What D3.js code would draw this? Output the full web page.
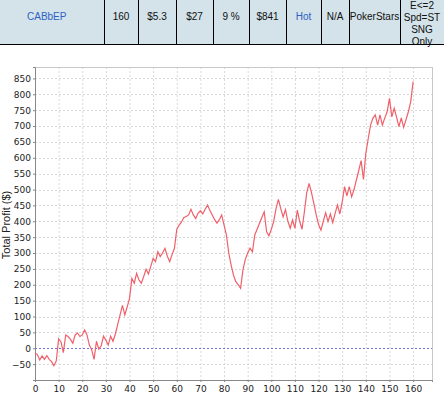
<!DOCTYPE html>
<html>
<head>
<meta charset="utf-8">
<script src="https://cdn.jsdelivr.net/npm/d3@7"></script>
<style>
  body { margin: 0; background: #fff; }
  text { font-family: "Liberation Sans", Arial, sans-serif; }
</style>
</head>
<body>
<div id="chart"></div>
<script>
// table row above the chart
const tableCells = ["CABbEP", "160", "$5.3", "$27", "9 %", "$841", "Hot", "N/A", "PokerStars", ["E<=2", "Spd=ST", "SNG", "Only"]];
const blueCells = [0, 6];

// x ticks and y ticks
const xTicks = d3.range(0, 161, 10);
const yTicks = d3.range(-50, 851, 50);

// cumulative profit, one value per tournament (0..160)
const profit = [
  -15, -20, -37, -24, -35, -23, -35, -42, -55, -40,
  30, 20, -14, 42, 37, 28, 16, 42, 48, 37,
  42, 58, 42, 10, -5, -35, 22, -3, 8, 38,
  25, 10, 38, 22, 45, 75, 105, 135, 105, 130,
  157, 220, 205, 236, 215, 205, 226, 249, 234, 258,
  283, 273, 304, 289, 300, 315, 290, 273, 295, 315,
  375, 388, 398, 412, 415, 420, 438, 420, 409, 425,
  433, 423, 438, 451, 435, 420, 405, 394, 405, 420,
  388, 357, 300, 262, 230, 210, 200, 189, 247, 280,
  300, 315, 304, 357, 375, 394, 412, 430, 367, 354,
  375, 399, 440, 469, 440, 414, 437, 400, 378, 404,
  378, 435, 400, 375, 430, 490, 519, 490, 456, 420,
  390, 372, 400, 427, 399, 423, 396, 425, 451, 423,
  460, 509, 480, 509, 477, 500, 530, 560, 591, 532,
  614, 660, 703, 725, 735, 703, 735, 703, 725, 745,
  787, 729, 756, 728, 698, 726, 696, 720, 745, 777,
  840
];

const W = 444, H = 398;
const plot = { left: 35, right: 432, top: 67, bottom: 380 };
const colEdges = [0, 104, 138, 176, 213, 249, 286, 321, 349, 400, 444];

const svg = d3.select("#chart").append("svg")
  .attr("width", W)
  .attr("height", H);

// ---- table row ----
const table = svg.append("g");
table.append("rect")
  .attr("x", 0).attr("y", 0)
  .attr("width", W).attr("height", 44)
  .attr("fill", "#d3e3e9");

table.selectAll(".sep")
  .data(colEdges.slice(1, -1))
  .enter()
  .append("line")
  .attr("x1", d => d + 0.5).attr("x2", d => d + 0.5)
  .attr("y1", 0).attr("y2", 44)
  .attr("stroke", "#000");

table.append("line")
  .attr("x1", 0).attr("x2", W)
  .attr("y1", 44.5).attr("y2", 44.5)
  .attr("stroke", "#000");

tableCells.forEach((cell, i) => {
  const cx = i === 0 ? 27 : (colEdges[i] + colEdges[i + 1]) / 2;
  const anchor = i === 0 ? "start" : "middle";
  const lines = Array.isArray(cell) ? cell : [cell];
  const y0 = lines.length > 1 ? 9 : 20;
  lines.forEach((t, k) => {
    table.append("text")
      .attr("x", cx)
      .attr("y", y0 + k * 12)
      .attr("text-anchor", anchor)
      .style("font-size", "10px")
      .style("fill", blueCells.includes(i) ? "#2b62c4" : "#111")
      .text(t);
  });
});

// ---- chart ----
const x = d3.scaleLinear().domain([0, 168]).range([plot.left, plot.right]);
const y = d3.scaleLinear().domain([-100, 886]).range([plot.bottom, plot.top]);

// grid
svg.append("g")
  .selectAll("line")
  .data(xTicks.filter(d => d > 0))
  .enter()
  .append("line")
  .attr("x1", d => x(d) + 0.5).attr("x2", d => x(d) + 0.5)
  .attr("y1", plot.top).attr("y2", plot.bottom)
  .attr("stroke", "#d8d8d8")
  .attr("stroke-dasharray", "2,2");

svg.append("g")
  .selectAll("line")
  .data(yTicks.filter(d => d !== 0))
  .enter()
  .append("line")
  .attr("x1", plot.left).attr("x2", plot.right)
  .attr("y1", d => Math.round(y(d)) + 0.5).attr("y2", d => Math.round(y(d)) + 0.5)
  .attr("stroke", "#d8d8d8")
  .attr("stroke-dasharray", "2,2");

// frame
svg.append("rect")
  .attr("x", plot.left + 0.5).attr("y", plot.top + 0.5)
  .attr("width", plot.right - plot.left).attr("height", plot.bottom - plot.top)
  .attr("fill", "none")
  .attr("stroke", "#c8c8c8");

// zero marker line
svg.append("line")
  .attr("x1", plot.left).attr("x2", plot.right)
  .attr("y1", Math.round(y(0)) + 0.5).attr("y2", Math.round(y(0)) + 0.5)
  .attr("stroke", "#7474dc")
  .attr("stroke-dasharray", "2,2");

// axes
const yAxis = svg.append("g")
  .attr("transform", `translate(${plot.left},0)`)
  .call(d3.axisLeft(y).tickValues(yTicks).tickSize(2).tickPadding(2));
const xAxis = svg.append("g")
  .attr("transform", `translate(0,${plot.bottom})`)
  .call(d3.axisBottom(x).tickValues(xTicks).tickSize(2).tickPadding(4));

[xAxis, yAxis].forEach(a => {
  a.select(".domain").attr("stroke", "#888");
  a.selectAll(".tick line").attr("stroke", "#888");
  a.selectAll(".tick text")
    .style("font-family", "'DejaVu Sans', sans-serif")
    .style("font-size", "9px")
    .style("fill", "#222");
});

// profit line
const line = d3.line()
  .x((d, i) => x(i))
  .y(d => y(d));

svg.append("path")
  .datum(profit)
  .attr("d", line)
  .attr("fill", "none")
  .attr("stroke", "#f0606a")
  .style("stroke-width", 1.2);

// y label
svg.append("text")
  .attr("transform", "translate(10,225) rotate(-90)")
  .attr("text-anchor", "middle")
  .style("font-size", "11px")
  .style("fill", "#222")
  .text("Total Profit ($)");
</script>
</body>
</html>
